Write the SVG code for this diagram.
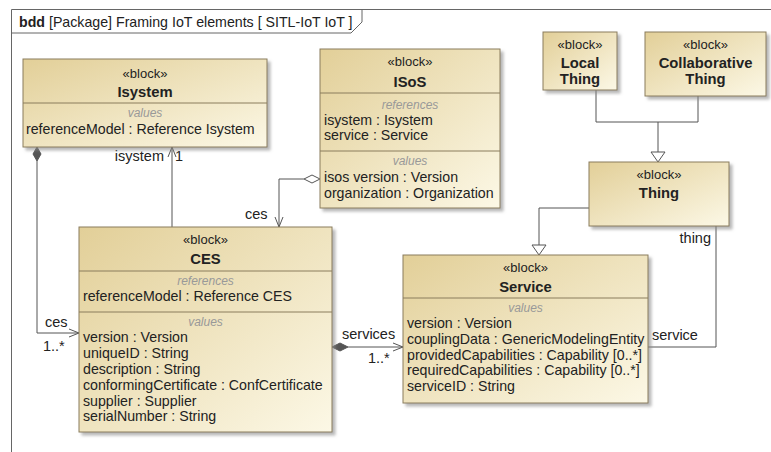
<svg xmlns="http://www.w3.org/2000/svg" width="771" height="452" viewBox="0 0 771 452">
<defs>
<linearGradient id="g" x1="0" y1="0" x2="1" y2="1">
<stop offset="0" stop-color="#e2cf98"/>
<stop offset="1" stop-color="#fcf8e6"/>
</linearGradient>
<filter id="sh" x="-5%" y="-5%" width="115%" height="115%">
<feDropShadow dx="3" dy="3" stdDeviation="1.5" flood-color="#888" flood-opacity="0.6"/>
</filter>
<marker id="open" viewBox="0 0 10 10" refX="10" refY="5" markerWidth="10" markerHeight="10" markerUnits="userSpaceOnUse" orient="auto">
<path d="M0,1 L10,5 L0,9" fill="none" stroke="#555" stroke-width="1"/>
</marker>
</defs>
<style>
.blk{fill:url(#g);stroke:#8a7c5c;stroke-width:1;filter:url(#sh)}
.dv{stroke:#8a7c5c;stroke-width:1}
.t{font-family:"Liberation Sans",Arial,sans-serif;font-size:14.2px;fill:#222}
.st{font-family:"Liberation Sans",Arial,sans-serif;font-size:13px;fill:#222;text-anchor:middle}
.nm{font-family:"Liberation Sans",Arial,sans-serif;font-size:14.8px;font-weight:bold;fill:#222;text-anchor:middle}
.cp{font-family:"Liberation Sans",Arial,sans-serif;font-size:12px;font-style:italic;fill:#999;text-anchor:middle}
.lb{font-family:"Liberation Sans",Arial,sans-serif;font-size:14.5px;fill:#222}
.ttl{font-family:"Liberation Sans",Arial,sans-serif;font-size:14.2px;fill:#222}
.ln{fill:none;stroke:#555;stroke-width:1}
</style>
<rect width="771" height="452" fill="#fff"/>
<g id="frame">
<path d="M11.5,452 L11.5,9.5 L771,9.5" fill="none" stroke="#666" stroke-width="1"/>
<path d="M11.5,33 L351,33 L362,22 L362,9.5" fill="none" stroke="#666" stroke-width="1"/>
<text x="19" y="27" class="ttl"><tspan font-weight="bold">bdd</tspan> [Package] Framing IoT elements [ SITL-IoT IoT ]</text>
</g>
<g id="connectors">
<path class="ln" d="M37,161 L37,333 L79,333" marker-end="url(#open)"/>
<path d="M37,147 L41,154 L37,161 L33,154 Z" fill="#555" stroke="#555"/>
<path class="ln" d="M172,227 L172,147" marker-end="url(#open)"/>
<path class="ln" d="M304,179 L279,179 L279,227" marker-end="url(#open)"/>
<path d="M320,179 L312,175 L304,179 L312,183 Z" fill="#fff" stroke="#555"/>
<path class="ln" d="M348,347 L403,347" marker-end="url(#open)"/>
<path d="M332,347 L340,343 L348,347 L340,351 Z" fill="#555" stroke="#555"/>
<path class="ln" d="M716,226 L716,347 L648,347"/>
<path class="ln" d="M596,90 L596,122 L698,122 L698,96 M658,122 L658,152"/>
<path d="M651,152 L665,152 L658,162 Z" fill="#fff" stroke="#555"/>
<path class="ln" d="M589,208 L539,208 L539,245"/>
<path d="M532,245 L546,245 L539,255 Z" fill="#fff" stroke="#555"/>
<text x="45" y="327" class="lb">ces</text>
<text x="43" y="351" class="lb">1..*</text>
<text x="164" y="161" class="lb" text-anchor="end">isystem</text>
<text x="175" y="161" class="lb">1</text>
<text x="245" y="219" class="lb">ces</text>
<text x="342" y="339" class="lb">services</text>
<text x="368" y="363" class="lb">1..*</text>
<text x="711" y="243" class="lb" text-anchor="end">thing</text>
<text x="652" y="340" class="lb">service</text>
</g>
<g id="isystem">
<rect class="blk" x="23" y="59" width="244" height="88"/>
<line class="dv" x1="23" y1="103" x2="267" y2="103"/>
<text x="145" y="78" class="st">«block»</text>
<text x="145" y="97" class="nm">Isystem</text>
<text x="145" y="117" class="cp">values</text>
<text x="26" y="134" class="t">referenceModel : Reference Isystem</text>
</g>
<g id="isos">
<rect class="blk" x="320" y="49" width="180" height="159"/>
<line class="dv" x1="320" y1="93" x2="500" y2="93"/>
<line class="dv" x1="320" y1="151" x2="500" y2="151"/>
<text x="410" y="66" class="st">«block»</text>
<text x="410" y="87" class="nm">ISoS</text>
<text x="410" y="109" class="cp">references</text>
<text x="324" y="125" class="t">isystem : Isystem</text>
<text x="324" y="140" class="t">service : Service</text>
<text x="410" y="165" class="cp">values</text>
<text x="324" y="182" class="t">isos version : Version</text>
<text x="324" y="198" class="t">organization : Organization</text>
</g>
<g id="ces">
<rect class="blk" x="79" y="227" width="253" height="205"/>
<line class="dv" x1="79" y1="271" x2="332" y2="271"/>
<line class="dv" x1="79" y1="312" x2="332" y2="312"/>
<text x="205.5" y="244" class="st">«block»</text>
<text x="205.5" y="264" class="nm">CES</text>
<text x="205.5" y="285" class="cp">references</text>
<text x="83" y="301" class="t">referenceModel : Reference CES</text>
<text x="205.5" y="326" class="cp">values</text>
<text x="83" y="342" class="t">version : Version</text>
<text x="83" y="358" class="t">uniqueID : String</text>
<text x="83" y="374" class="t">description : String</text>
<text x="83" y="390" class="t">conformingCertificate : ConfCertificate</text>
<text x="83" y="406" class="t">supplier : Supplier</text>
<text x="83" y="421" class="t">serialNumber : String</text>
</g>
<g id="localthing">
<rect class="blk" x="543" y="32" width="74" height="58"/>
<text x="580" y="49" class="st">«block»</text>
<text x="580" y="68" class="nm">Local</text>
<text x="580" y="84" class="nm">Thing</text>
</g>
<g id="collabthing">
<rect class="blk" x="645" y="32" width="121" height="64"/>
<text x="705.5" y="49" class="st">«block»</text>
<text x="705.5" y="68" class="nm">Collaborative</text>
<text x="705.5" y="84" class="nm">Thing</text>
</g>
<g id="thing">
<rect class="blk" x="589" y="162" width="140" height="64"/>
<text x="659" y="179" class="st">«block»</text>
<text x="659" y="198" class="nm">Thing</text>
</g>
<g id="service">
<rect class="blk" x="403" y="255" width="245" height="148"/>
<line class="dv" x1="403" y1="298" x2="648" y2="298"/>
<text x="525.5" y="272" class="st">«block»</text>
<text x="525.5" y="292" class="nm">Service</text>
<text x="525.5" y="312" class="cp">values</text>
<text x="407" y="328" class="t">version : Version</text>
<text x="407" y="344" class="t">couplingData : GenericModelingEntity</text>
<text x="407" y="360" class="t">providedCapabilities : Capability [0..*]</text>
<text x="407" y="375" class="t">requiredCapabilities : Capability [0..*]</text>
<text x="407" y="391" class="t">serviceID : String</text>
</g>
</svg>
